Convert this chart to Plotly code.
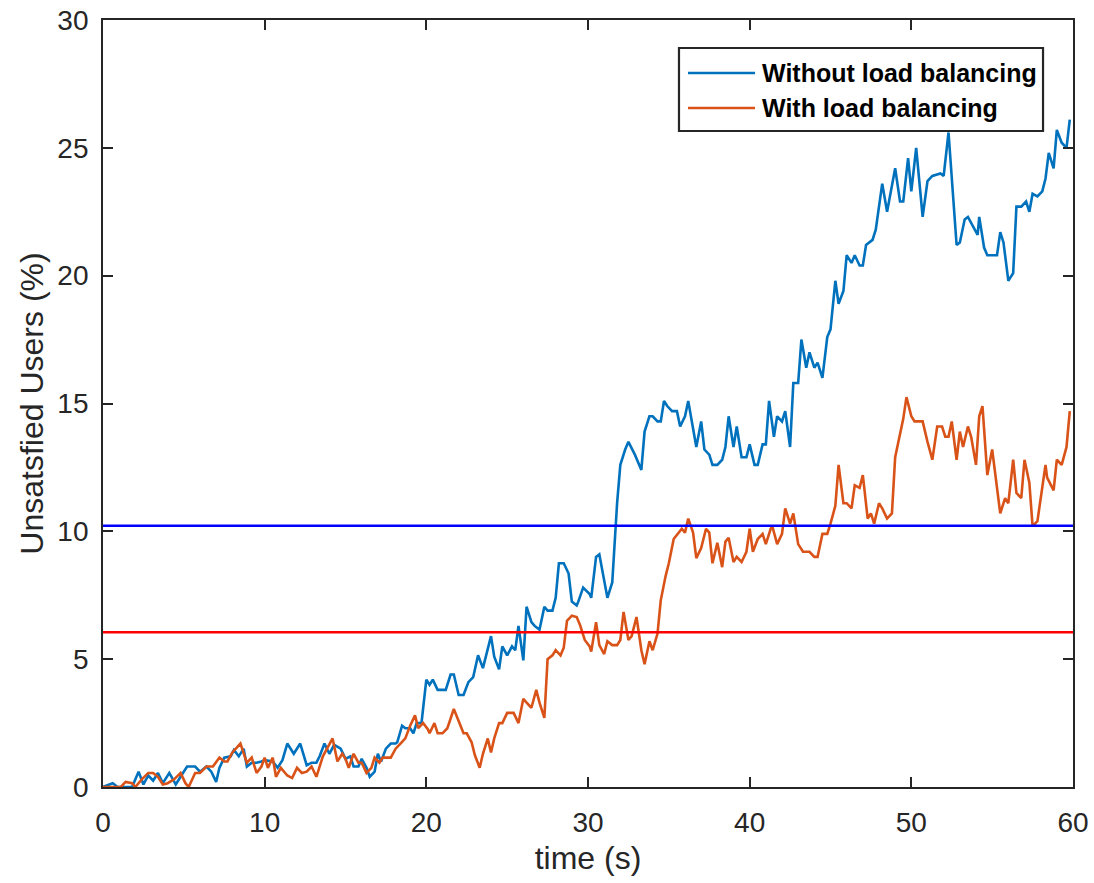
import plotly.graph_objects as go

# ---------------- data ----------------
series_names = ["Without load balancing", "With load balancing"]

t_without = [0, 0.6, 0.9, 1.2, 1.8, 2.2, 2.5, 2.8, 3.1, 3.4, 3.7, 4.1, 4.5, 4.8, 5.2, 5.7, 6.0, 6.4, 6.7, 7.0,
             7.2, 7.5, 7.9, 8.1, 8.4, 8.7, 8.9, 9.2, 9.5, 9.8, 10.0, 10.5, 10.8, 11.1, 11.4, 11.8, 12.2, 12.6, 12.9, 13.2,
             13.4, 13.7, 14.0, 14.3, 14.7, 15.0, 15.3, 15.5, 15.8, 16.0, 16.3, 16.5, 16.8, 17.0, 17.2, 17.5, 17.8, 18.1, 18.2, 18.5,
             18.7, 19.0, 19.2, 19.4, 19.7, 20.0, 20.2, 20.4, 20.7, 21.2, 21.5, 21.7, 22.0, 22.3, 22.6, 22.9, 23.2, 23.5, 24.0, 24.2,
             24.5, 24.7, 25.0, 25.3, 25.5, 25.7, 26.0, 26.2, 26.5, 26.7, 27.0, 27.3, 27.5, 27.8, 28.0, 28.2, 28.5, 28.8, 29.0, 29.3,
             29.4, 29.7, 30.1, 30.2, 30.5, 30.7, 31.0, 31.2, 31.5, 31.8, 32.0, 32.3, 32.5, 32.9, 33.3, 33.5, 33.8, 34.0, 34.3, 34.5,
             34.7, 34.9, 35.2, 35.5, 35.7, 36.0, 36.2, 36.5, 36.7, 37.0, 37.2, 37.5, 37.7, 38.0, 38.3, 38.5, 38.7, 39.0, 39.2, 39.5,
             39.8, 40.0, 40.3, 40.5, 40.8, 41.0, 41.2, 41.5, 41.7, 42.0, 42.2, 42.5, 42.7, 43.0, 43.2, 43.5, 43.7, 44.0, 44.2, 44.5,
             44.8, 45.0, 45.3, 45.5, 45.8, 46.0, 46.3, 46.5, 46.8, 47.0, 47.2, 47.6, 47.8, 48.2, 48.5, 49.0, 49.3, 49.5, 49.8, 50.0,
             50.3, 50.7, 51.0, 51.3, 51.8, 52.0, 52.3, 52.8, 53.0, 53.3, 53.5, 54.1, 54.2, 54.5, 54.7, 55.3, 55.5, 55.7, 56.0, 56.3,
             56.5, 56.8, 57.1, 57.3, 57.5, 57.8, 58.1, 58.3, 58.5, 58.8, 59.0, 59.3, 59.6, 59.8]
v_without = [0, 0.15, 0, 0, 0, 0.6, 0.1, 0.45, 0.25, 0.55, 0.15, 0.55, 0.1, 0.4, 0.8, 0.8, 0.6, 0.8, 0.6, 0.2,
             0.75, 1.15, 1.2, 1.45, 1.2, 1.5, 0.8, 0.95, 0.95, 1.0, 1.05, 1.0, 0.75, 1.05, 1.7, 1.3, 1.7, 0.85, 0.95, 0.95,
             1.2, 1.7, 1.3, 1.65, 1.5, 1.1, 1.2, 0.8, 0.8, 1.1, 0.75, 0.4, 0.6, 1.3, 1.0, 1.5, 1.7, 1.7, 1.75, 2.4,
             2.3, 2.3, 2.1, 2.5, 2.5, 4.2, 4.0, 4.2, 3.8, 3.8, 4.4, 4.4, 3.6, 3.6, 4.1, 4.3, 5.15, 4.65, 5.9, 5.1,
             4.6, 5.5, 5.15, 5.5, 5.35, 6.3, 4.95, 7.05, 6.45, 6.3, 6.15, 7.05, 6.9, 6.9, 7.4, 8.75, 8.75, 8.35, 7.25, 7.1,
             7.25, 7.8, 7.55, 7.4, 9.0, 9.1, 8.1, 7.4, 8.0, 11.1, 12.6, 13.2, 13.5, 13.0, 12.4, 13.9, 14.5, 14.5, 14.3, 14.3,
             15.1, 14.9, 14.7, 14.7, 14.1, 14.5, 15.1, 14.1, 13.3, 14.3, 13.2, 13.0, 12.6, 12.6, 12.8, 13.3, 14.5, 13.3, 14.1, 12.9,
             12.9, 13.4, 12.6, 12.6, 13.4, 13.4, 15.1, 13.7, 14.5, 14.3, 14.7, 13.3, 15.8, 15.8, 17.5, 16.4, 17.0, 16.4, 16.6, 16.0,
             17.6, 17.9, 19.8, 18.9, 19.4, 20.8, 20.5, 20.8, 20.4, 20.4, 21.2, 21.4, 21.8, 23.6, 22.5, 24.2, 22.9, 22.9, 24.6, 23.3,
             25.0, 22.3, 23.7, 23.9, 24.0, 23.9, 25.6, 21.2, 21.3, 22.2, 22.3, 21.6, 22.3, 21.1, 20.8, 20.8, 21.7, 21.3, 19.8, 20.1,
             22.7, 22.7, 22.9, 22.5, 23.2, 23.1, 23.3, 23.8, 24.8, 24.2, 25.7, 25.2, 25.0, 26.1]

t_with = [0, 0.6, 1.1, 1.4, 1.8, 2.0, 2.4, 2.8, 3.1, 3.4, 3.7, 4.0, 4.4, 4.8, 5.1, 5.3, 5.7, 6.0, 6.4, 6.8,
          7.2, 7.5, 7.7, 8.0, 8.5, 8.9, 9.2, 9.5, 9.8, 10.0, 10.2, 10.5, 10.7, 11.0, 11.4, 11.7, 12.0, 12.3, 12.6, 12.9,
          13.2, 13.6, 13.9, 14.2, 14.5, 14.8, 15.0, 15.2, 15.5, 15.8, 16.0, 16.3, 16.6, 16.8, 17.1, 17.3, 17.8, 18.1, 18.4, 18.7,
          19.0, 19.3, 19.5, 19.8, 20.1, 20.2, 20.5, 20.7, 21.0, 21.3, 21.7, 22.0, 22.3, 22.5, 22.8, 23.0, 23.3, 23.5, 23.8, 24.0,
          24.2, 24.5, 24.7, 25.0, 25.4, 25.7, 26.0, 26.2, 26.5, 26.8, 27.0, 27.3, 27.5, 27.8, 28.0, 28.3, 28.5, 28.7, 29.0, 29.3,
          29.5, 29.8, 30.1, 30.2, 30.5, 30.7, 31.0, 31.2, 31.5, 31.8, 32.0, 32.2, 32.5, 32.7, 33.0, 33.3, 33.5, 33.8, 34.0, 34.3,
          34.5, 34.8, 35.0, 35.3, 35.5, 35.8, 36.0, 36.2, 36.5, 36.7, 37.0, 37.3, 37.5, 37.7, 38.0, 38.3, 38.5, 38.7, 39.0, 39.2,
          39.5, 39.8, 40.0, 40.2, 40.5, 40.8, 41.0, 41.3, 41.4, 41.7, 42.0, 42.2, 42.5, 42.7, 43.0, 43.3, 43.7, 44.0, 44.2, 44.5,
          44.8, 45.0, 45.3, 45.5, 45.8, 46.0, 46.3, 46.5, 46.8, 47.0, 47.3, 47.5, 47.7, 48.0, 48.2, 48.5, 48.8, 49.0, 49.2, 49.5,
          49.7, 50.0, 50.2, 50.7, 51.0, 51.3, 51.6, 51.9, 52.1, 52.3, 52.5, 52.8, 53.0, 53.2, 53.5, 53.7, 54.0, 54.2, 54.4, 54.7,
          55.0, 55.3, 55.5, 55.8, 56.0, 56.3, 56.5, 56.8, 57.0, 57.3, 57.5, 57.8, 58.3, 58.4, 58.8, 59.0, 59.3, 59.6, 59.8]
v_with = [0, 0, 0, 0.2, 0.15, 0, 0.3, 0.55, 0.55, 0.4, 0.1, 0.15, 0.3, 0.55, 0.15, 0, 0.55, 0.55, 0.8, 0.8,
          1.15, 1.0, 1.0, 1.35, 1.7, 0.95, 1.15, 0.55, 0.8, 1.15, 0.75, 1.15, 0.4, 0.75, 0.45, 0.35, 0.75, 0.55, 0.6, 0.8,
          0.4, 1.2, 1.55, 1.9, 1.0, 1.3, 1.1, 0.75, 1.3, 0.95, 0.95, 0.55, 0.75, 1.15, 0.95, 1.15, 1.15, 1.5, 1.7, 1.9,
          2.4, 2.8, 2.3, 2.5, 2.25, 2.1, 2.5, 2.1, 2.1, 2.3, 3.05, 2.55, 2.1, 2.1, 1.75, 1.25, 0.75, 1.3, 1.9, 1.35,
          1.9, 2.5, 2.5, 2.9, 2.9, 2.5, 3.45, 3.3, 3.1, 3.8, 3.3, 2.7, 5.0, 5.15, 5.35, 5.15, 5.45, 6.5, 6.7, 6.65,
          6.35, 5.75, 5.5, 5.3, 6.45, 5.55, 5.2, 5.7, 5.55, 5.55, 5.75, 6.85, 5.75, 5.9, 6.65, 5.35, 4.8, 5.7, 5.35, 6.0,
          7.3, 8.25, 8.75, 9.7, 9.85, 10.1, 9.95, 10.5, 9.95, 8.95, 9.35, 10.1, 9.95, 8.75, 9.55, 8.6, 9.6, 9.75, 8.8, 9.0,
          8.8, 9.2, 10.1, 9.2, 9.7, 9.9, 9.5, 10.1, 10.2, 9.5, 9.9, 10.9, 10.3, 10.7, 9.5, 9.2, 9.2, 9.0, 9.0, 9.9,
          9.9, 10.3, 11.0, 12.6, 11.1, 11.1, 10.9, 11.8, 11.7, 12.2, 10.5, 10.7, 10.3, 11.1, 10.9, 10.5, 10.7, 12.9, 13.5, 14.4,
          15.25, 14.5, 14.3, 14.3, 13.5, 12.8, 14.1, 14.1, 13.7, 13.7, 14.3, 12.8, 13.9, 13.3, 14.1, 13.7, 12.6, 14.5, 14.9, 12.2,
          13.2, 11.8, 10.7, 11.3, 11.1, 12.8, 11.5, 11.3, 12.8, 11.9, 10.2, 10.4, 12.6, 12.1, 11.6, 12.8, 12.6, 13.3, 14.7]

mean_without = 10.22
mean_with = 6.05
x_range = [0, 60]
y_range = [0, 30]
x_ticks = [0, 10, 20, 30, 40, 50, 60]
y_ticks = [0, 5, 10, 15, 20, 25, 30]
x_title = "time (s)"
y_title = "Unsatsfied Users (%)"

# ---------------- styles ----------------
C_BLUE = "#0072BD"
C_ORANGE = "#D95319"
AX = "#262626"
FONT = "Arial, Liberation Sans, Helvetica, sans-serif"

fig = go.Figure()
fig.add_trace(go.Scatter(x=t_without, y=v_without, mode="lines", name=series_names[0],
                         line=dict(color=C_BLUE, width=2.6), showlegend=False))
fig.add_trace(go.Scatter(x=t_with, y=v_with, mode="lines", name=series_names[1],
                         line=dict(color=C_ORANGE, width=2.6), showlegend=False))
fig.add_trace(go.Scatter(x=x_range, y=[mean_without, mean_without], mode="lines",
                         line=dict(color="#0000FF", width=2.4), showlegend=False, hoverinfo="skip"))
fig.add_trace(go.Scatter(x=x_range, y=[mean_with, mean_with], mode="lines",
                         line=dict(color="#FF0000", width=2.4), showlegend=False, hoverinfo="skip"))

axis_common = dict(showline=True, linecolor=AX, linewidth=1.8, mirror="allticks",
                   ticks="inside", ticklen=10, tickwidth=1.6, tickcolor=AX,
                   showgrid=False, zeroline=False, automargin=False,
                   tickfont=dict(family=FONT, size=28, color=AX))

fig.update_xaxes(range=x_range, tickvals=x_ticks, ticklabelstandoff=9,
                 title=dict(text=x_title, font=dict(family=FONT, size=32, color=AX), standoff=10),
                 **axis_common)
fig.update_yaxes(range=y_range, tickvals=y_ticks, ticklabelstandoff=7,
                 title=dict(text=y_title, font=dict(family=FONT, size=32, color=AX), standoff=4),
                 **axis_common)

# legend drawn manually (MATLAB style box)
lx0, lx1, ly0, ly1 = 0.5938, 0.9691, 0.8553, 0.9635
fig.add_shape(type="rect", xref="paper", yref="paper", x0=lx0, x1=lx1, y0=ly0, y1=ly1,
              line=dict(color=AX, width=2.2), fillcolor="white", layer="above")
rows = [(0.9309, C_BLUE, series_names[0]), (0.8853, C_ORANGE, series_names[1])]
for yy, col, name in rows:
    fig.add_shape(type="line", xref="paper", yref="paper", x0=0.6031, x1=0.6722, y0=yy, y1=yy,
                  line=dict(color=col, width=2.6), layer="above")
    fig.add_annotation(xref="paper", yref="paper", x=0.6773, y=yy, xanchor="left", yanchor="middle",
                       text="<b>" + name + "</b>", showarrow=False,
                       font=dict(family=FONT, size=25, color="black"))

fig.update_layout(width=1094, height=883, margin=dict(l=103, r=21, t=20, b=96),
                  paper_bgcolor="white", plot_bgcolor="white", showlegend=False)

fig.write_html("out.html")
